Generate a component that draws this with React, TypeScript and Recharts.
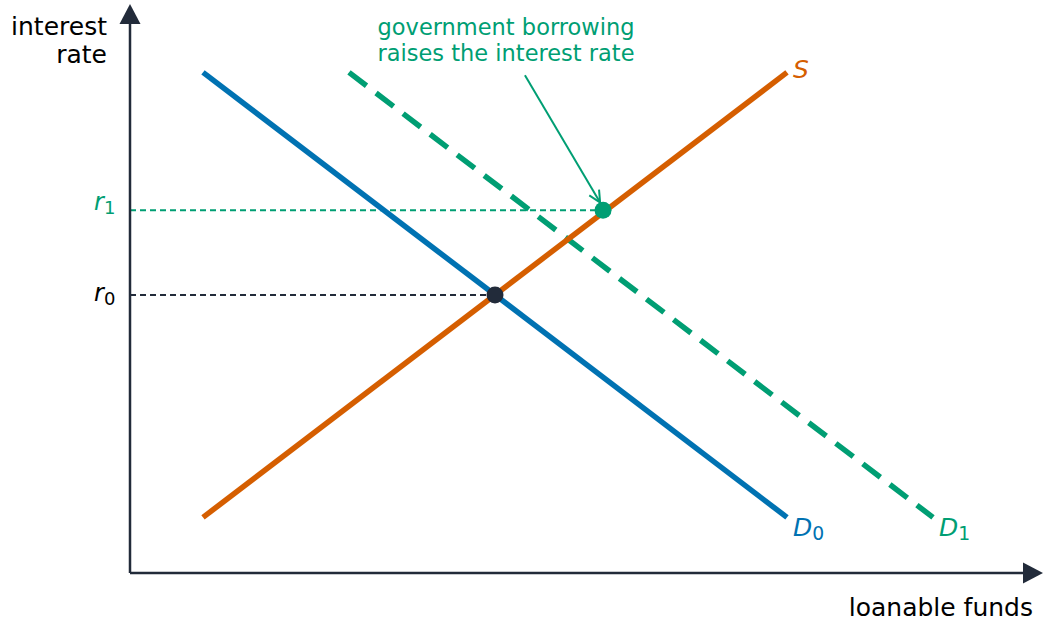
import React from "react";
import { ComposedChart, Line, XAxis, YAxis, ReferenceLine, ReferenceDot } from "recharts";

const BLUE = "#0072b2";
const ORANGE = "#d55e00";
const GREEN = "#009e73";
const DARK = "#222b3a";
const FONT = "DejaVu Sans, sans-serif";

// axis extents (arbitrary units)
const X_MAX = 12.507;
const Y_MAX = 10.23;

const demandD0 = [
  { x: 1, y: 9 },
  { x: 9, y: 1 },
];
const supplyS = [
  { x: 1, y: 1 },
  { x: 9, y: 9 },
];
const demandD1 = [
  { x: 3, y: 9 },
  { x: 11, y: 1 },
];

const eq0 = { x: 5, y: 5 };
const eq1 = { x: 6.48, y: 6.52 };
const noteArrowFrom = { x: 5.41, y: 8.95 };
const noteArrowTo = { x: 6.44, y: 6.66 };
const noteLines = ["government borrowing", "raises the interest rate"];
const yTitle = ["interest", "rate"];
const xTitle = "loanable funds";

function arrowShape(head: "triangle" | "open", color: string, width: number) {
  return (props: any) => {
    const { x1, y1, x2, y2 } = props;
    const a = Math.atan2(y2 - y1, x2 - x1);
    if (head === "triangle") {
      const len = 20;
      const half = 10.5;
      const bx = x2 - len * Math.cos(a);
      const by = y2 - len * Math.sin(a);
      const px = -Math.sin(a) * half;
      const py = Math.cos(a) * half;
      return (
        <g>
          <line x1={x1} y1={y1} x2={bx} y2={by} stroke={color} strokeWidth={width} />
          <polygon
            points={`${x2},${y2} ${bx + px},${by + py} ${bx - px},${by - py}`}
            fill={color}
          />
        </g>
      );
    }
    const len = 13;
    const spread = 0.45;
    return (
      <g>
        <line x1={x1} y1={y1} x2={x2} y2={y2} stroke={color} strokeWidth={width} />
        <polyline
          points={`${x2 - len * Math.cos(a - spread)},${y2 - len * Math.sin(a - spread)} ${x2},${y2} ${
            x2 - len * Math.cos(a + spread)
          },${y2 - len * Math.sin(a + spread)}`}
          fill="none"
          stroke={color}
          strokeWidth={width}
        />
      </g>
    );
  };
}

function symbolLabel(main: string, sub: string | null, color: string, dx: number, dy: number, size = 25) {
  return (props: any) => {
    const { cx, cy } = props;
    return (
      <text x={cx + dx} y={cy + dy} fill={color} fontFamily={FONT} fontSize={size}>
        <tspan fontStyle="italic">{main}</tspan>
        {sub && (
          <tspan fontSize={size * 0.75} dy={4}>
            {sub}
          </tspan>
        )}
      </text>
    );
  };
}

export default function App() {
  return (
    <div style={{ position: "absolute", left: 0, top: 0 }}>
      <ComposedChart
        width={1043}
        height={623}
        margin={{ top: 4, right: 0, bottom: 50, left: 130 }}
      >
        <XAxis type="number" dataKey="x" domain={[0, X_MAX]} hide allowDataOverflow />
        <YAxis type="number" dataKey="y" domain={[0, Y_MAX]} hide allowDataOverflow />

        <ReferenceLine
          segment={[{ x: 0, y: eq1.y }, { x: eq1.x, y: eq1.y }]}
          stroke={GREEN}
          strokeWidth={2}
          strokeDasharray="6 4"
        />
        <ReferenceLine
          segment={[{ x: 0, y: eq0.y }, { x: eq0.x, y: eq0.y }]}
          stroke={DARK}
          strokeWidth={2}
          strokeDasharray="6 4"
        />

        <Line
          data={demandD1}
          dataKey="y"
          type="linear"
          stroke={GREEN}
          strokeWidth={5.5}
          strokeDasharray="22 12"
          dot={false}
          isAnimationActive={false}
        />
        <Line
          data={demandD0}
          dataKey="y"
          type="linear"
          stroke={BLUE}
          strokeWidth={5.5}
          dot={false}
          isAnimationActive={false}
        />
        <Line
          data={supplyS}
          dataKey="y"
          type="linear"
          stroke={ORANGE}
          strokeWidth={5.5}
          dot={false}
          isAnimationActive={false}
        />

        <ReferenceLine
          segment={[{ x: 0, y: 0 }, { x: X_MAX, y: 0 }]}
          shape={arrowShape("triangle", DARK, 2.5)}
        />
        <ReferenceLine
          segment={[{ x: 0, y: 0 }, { x: 0, y: Y_MAX }]}
          shape={arrowShape("triangle", DARK, 2.5)}
        />
        <ReferenceLine
          segment={[noteArrowFrom, noteArrowTo]}
          shape={arrowShape("open", GREEN, 2)}
        />

        <ReferenceDot x={eq0.x} y={eq0.y} r={8.5} fill={DARK} stroke="none" />
        <ReferenceDot x={eq1.x} y={eq1.y} r={8.5} fill={GREEN} stroke="none" />

        <ReferenceDot x={supplyS[1].x} y={supplyS[1].y} shape={symbolLabel("S", null, ORANGE, 6, 6)} />
        <ReferenceDot x={demandD0[1].x} y={demandD0[1].y} shape={symbolLabel("D", "0", BLUE, 6, 19)} />
        <ReferenceDot x={demandD1[1].x} y={demandD1[1].y} shape={symbolLabel("D", "1", GREEN, 6, 19)} />
        <ReferenceDot x={0} y={eq1.y} shape={symbolLabel("r", "1", GREEN, -36, 0, 24)} />
        <ReferenceDot x={0} y={eq0.y} shape={symbolLabel("r", "0", "#000", -36, 6, 24)} />

        <text x={107} y={35} textAnchor="end" fontFamily={FONT} fontSize={25} fill="#000">
          {yTitle[0]}
        </text>
        <text x={107} y={63} textAnchor="end" fontFamily={FONT} fontSize={25} fill="#000">
          {yTitle[1]}
        </text>
        <text x={1033} y={616} textAnchor="end" fontFamily={FONT} fontSize={25} fill="#000">
          {xTitle}
        </text>
        {noteLines.map((line, i) => (
          <text
            key={line}
            x={506}
            y={35 + i * 26}
            textAnchor="middle"
            fontFamily={FONT}
            fontSize={22.5}
            fill={GREEN}
          >
            {line}
          </text>
        ))}
      </ComposedChart>
    </div>
  );
}
